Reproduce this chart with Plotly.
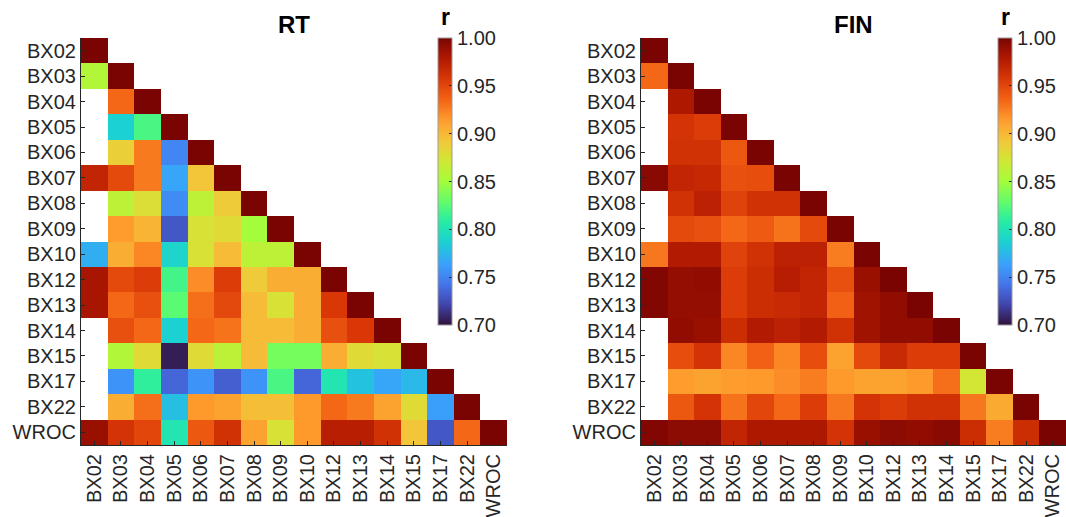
import plotly.graph_objects as go

stations = ["BX02", "BX03", "BX04", "BX05", "BX06", "BX07", "BX08", "BX09",
            "BX10", "BX12", "BX13", "BX14", "BX15", "BX17", "BX22", "WROC"]

# Lower-triangle correlation coefficients, one list per row (row i has i+1 entries).
# None marks a station pair without a value.
rt_rows = [
    [1.0],
    [0.856, 1.0],
    [None, 0.934, 1.0],
    [None, 0.787, 0.82, 1.0],
    [None, 0.887, 0.927, 0.751, 1.0],
    [0.97, 0.948, 0.927, 0.766, 0.893, 1.0],
    [None, 0.862, 0.878, 0.754, 0.862, 0.89, 1.0],
    [None, 0.914, 0.902, 0.73, 0.876, 0.88, 0.85, 1.0],
    [0.77, 0.905, 0.922, 0.79, 0.876, 0.898, 0.862, 0.862, 1.0],
    [0.982, 0.948, 0.955, 0.818, 0.92, 0.955, 0.89, 0.905, 0.905, 1.0],
    [0.982, 0.934, 0.945, 0.826, 0.931, 0.949, 0.898, 0.876, 0.905, 0.957, 1.0],
    [None, 0.945, 0.934, 0.787, 0.934, 0.93, 0.898, 0.898, 0.905, 0.945, 0.957, 1.0],
    [None, 0.856, 0.88, 0.705, 0.88, 0.862, 0.898, 0.835, 0.835, 0.905, 0.88, 0.876, 1.0],
    [None, 0.757, 0.811, 0.736, 0.757, 0.733, 0.757, 0.82, 0.736, 0.802, 0.78, 0.766, 0.775, 1.0],
    [None, 0.905, 0.931, 0.778, 0.915, 0.911, 0.897, 0.897, 0.915, 0.934, 0.927, 0.911, 0.88, 0.763, 1.0],
    [0.988, 0.96, 0.95, 0.802, 0.941, 0.962, 0.911, 0.876, 0.915, 0.975, 0.975, 0.962, 0.893, 0.73, 0.934, 1.0],
]

fin_rows = [
    [1.0],
    [0.934, 1.0],
    [None, 0.98, 1.0],
    [None, 0.96, 0.955, 1.0],
    [None, 0.962, 0.962, 0.941, 1.0],
    [0.994, 0.97, 0.968, 0.945, 0.946, 1.0],
    [None, 0.962, 0.973, 0.952, 0.962, 0.962, 1.0],
    [None, 0.948, 0.945, 0.934, 0.94, 0.93, 0.948, 1.0],
    [0.928, 0.978, 0.978, 0.952, 0.962, 0.973, 0.973, 0.926, 1.0],
    [0.997, 0.99, 0.991, 0.955, 0.964, 0.976, 0.97, 0.945, 0.988, 1.0],
    [0.997, 0.99, 0.99, 0.955, 0.964, 0.967, 0.97, 0.937, 0.985, 0.991, 1.0],
    [None, 0.991, 0.988, 0.964, 0.978, 0.973, 0.978, 0.962, 0.985, 0.991, 0.991, 1.0],
    [None, 0.946, 0.96, 0.922, 0.937, 0.922, 0.946, 0.911, 0.948, 0.967, 0.955, 0.955, 1.0],
    [None, 0.914, 0.911, 0.914, 0.915, 0.92, 0.926, 0.915, 0.911, 0.911, 0.915, 0.931, 0.872, 1.0],
    [None, 0.941, 0.96, 0.93, 0.95, 0.934, 0.955, 0.928, 0.96, 0.955, 0.962, 0.962, 0.928, 0.907, 1.0],
    [0.997, 0.993, 0.993, 0.97, 0.98, 0.98, 0.98, 0.96, 0.988, 0.993, 0.991, 0.994, 0.964, 0.926, 0.964, 1.0],
]

titles = ["RT", "FIN"]
r_min, r_max = 0.70, 1.00
cbar_ticks = [0.70, 0.75, 0.80, 0.85, 0.90, 0.95, 1.00]

W, H = 1066, 517
FONT = "Liberation Sans, Arial, sans-serif"
INK = "#262626"


def square(rows):
    n = len(stations)
    return [row + [None] * (n - len(row)) for row in rows]


# panel placement in pixels
panels = [
    dict(x0=81, x1=507, cb_x=438),
    dict(x0=641, x1=1066, cb_x=998),
]
top_px, bot_px = 38, 445
cb_top, cb_bot = 38, 325

fig = go.Figure()
for k, (rows, p) in enumerate(zip([rt_rows, fin_rows], panels)):
    ax = "" if k == 0 else str(k + 1)
    fig.add_trace(go.Heatmap(
        z=square(rows), x=stations, y=stations,
        xaxis="x" + ax, yaxis="y" + ax,
        colorscale="Turbo", zmin=r_min, zmax=r_max,
        hoverongaps=False,
        colorbar=dict(
            x=p["cb_x"] / W, xanchor="left", xpad=0,
            y=1 - cb_top / H, yanchor="top", ypad=0,
            len=(cb_bot - cb_top) / H, lenmode="fraction",
            thickness=14, outlinecolor="#9a9a9a", outlinewidth=1,
            tickvals=cbar_ticks, ticktext=[f"{v:.2f}" for v in cbar_ticks],
            ticks="inside", ticklen=3, tickcolor=INK,
            tickfont=dict(family=FONT, size=20, color=INK),
        ),
    ))
    dom_x = [p["x0"] / W, min(p["x1"] / W, 1.0)]
    dom_y = [1 - bot_px / H, 1 - top_px / H]
    fig.layout["xaxis" + ax] = dict(
        domain=dom_x, anchor="y" + ax, type="category",
        tickangle=-90, ticks="inside", ticklen=4, tickcolor=INK,
        showline=True, linecolor=INK, linewidth=1.2, mirror=False,
        showgrid=False, zeroline=False,
        tickfont=dict(family=FONT, size=20, color=INK),
    )
    fig.layout["yaxis" + ax] = dict(
        domain=dom_y, anchor="x" + ax, type="category", autorange="reversed",
        ticks="inside", ticklen=4, tickcolor=INK,
        showline=True, linecolor=INK, linewidth=1.2, mirror=False,
        showgrid=False, zeroline=False,
        tickfont=dict(family=FONT, size=20, color=INK),
    )
    fig.add_annotation(
        text=f"<b>{titles[k]}</b>", xref="paper", yref="paper",
        x=(p["x0"] + p["x1"]) / 2 / W, y=1 - 24 / H,
        xanchor="center", yanchor="middle", showarrow=False,
        font=dict(family=FONT, size=24, color="black"),
    )
    fig.add_annotation(
        text="<b>r</b>", xref="paper", yref="paper",
        x=(p["cb_x"] + 7) / W, y=1 - 17 / H,
        xanchor="center", yanchor="middle", showarrow=False,
        font=dict(family=FONT, size=23, color="black"),
    )

fig.update_layout(
    width=W, height=H,
    margin=dict(l=0, r=0, t=0, b=0),
    paper_bgcolor="white", plot_bgcolor="white",
    showlegend=False,
)

fig.write_html("out.html")
